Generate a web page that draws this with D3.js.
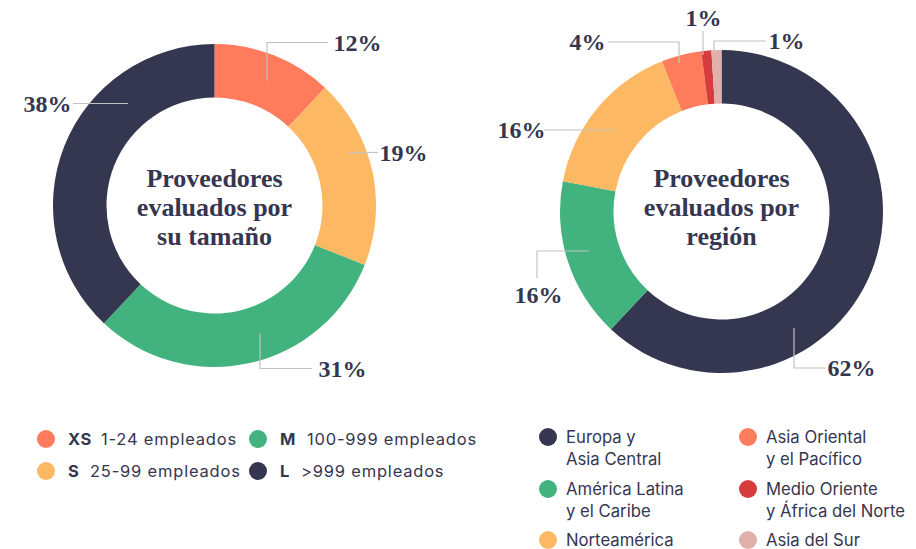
<!DOCTYPE html>
<html>
<head>
<meta charset="utf-8">
<script src="https://cdn.jsdelivr.net/npm/d3@7"></script>
<style>
  html, body { margin: 0; padding: 0; background: #ffffff; }
  svg { display: block; }
</style>
</head>
<body>
<svg id="chart" width="916" height="549"></svg>
<script>
// Proveedores por tamaño
const sizeCodes  = ["XS", "S", "M", "L"];
const sizeRanges = ["1-24 empleados", "25-99 empleados", "100-999 empleados", ">999 empleados"];
const sizeValues = [12, 19, 31, 38];
const sizeColors = ["#fe7b5c", "#fdb863", "#42b37e", "#35364f"];

// Proveedores por región
const regionNames  = ["Europa y\nAsia Central", "América Latina\ny el Caribe", "Norteamérica",
                      "Asia Oriental\ny el Pacífico", "Medio Oriente\ny África del Norte", "Asia del Sur"];
const regionValues = [62, 16, 16, 4, 1, 1];
const regionColors = ["#35364f", "#42b37e", "#fdb863", "#fe7b5c", "#d63c3c", "#e2b0ab"];

const INK = "#35364f";
const LEADER = "#c2c2c2";
const SERIF = "'Liberation Serif', 'DejaVu Serif', serif";
const SANS = "Inter, 'Noto Sans', sans-serif";

const svg = d3.select("#chart");
const pie = d3.pie().sort(null).value(d => d.value);
const arc = d3.arc().innerRadius(108).outerRadius(161.5);

// Leader-line routes, relative to each donut centre; the first point sits on the ring.
const sizeLeaders = [
  { pts: [[52.5, -125], [52.5, -163], [113.5, -163]], tx: 119, ty: -163, anchor: "start" },
  { pts: [[134.5, -53], [163.5, -53]], tx: 165, ty: -53, anchor: "start" },
  { pts: [[45.5, 128], [45.5, 163], [97.5, 163]], tx: 104, ty: 163, anchor: "start" },
  { pts: [[-86.5, -102], [-141.5, -102]], tx: -143, ty: -102, anchor: "end" }
];
const regionLeaders = [
  { pts: [[72.5, 116.5], [72.5, 156.5], [104.5, 156.5]], tx: 106, ty: 156.5, anchor: "start" },
  { pts: [[-132.5, 39.5], [-184.5, 39.5], [-184.5, 66.5]], tx: -183, ty: 83.5, anchor: "middle" },
  { pts: [[-108.5, -81.5], [-177.5, -81.5]], tx: -176, ty: -81.5, anchor: "end" },
  { pts: [[-42.5, -148.5], [-42.5, -169.5], [-113.5, -169.5]], tx: -116, ty: -169.5, anchor: "end" },
  { pts: [[-18.5, -156.5], [-18.5, -180.5]], tx: -18, ty: -194, anchor: "middle" },
  { pts: [[-7.5, -156.5], [-7.5, -170.5], [44.5, -170.5]], tx: 47, ty: -170.5, anchor: "start" }
];

function donut(cx, cy, values, colors, leaders, title) {
  const g = svg.append("g").attr("transform", `translate(${cx},${cy})`);
  const data = values.map((v, i) => ({ value: v, color: colors[i] }));
  const arcs = pie(data);

  g.selectAll("path.slice").data(arcs).join("path")
    .attr("class", "slice")
    .attr("d", arc)
    .attr("fill", d => d.data.color);

  const line = d3.line();
  g.selectAll("path.leader").data(leaders).join("path")
    .attr("class", "leader")
    .attr("d", d => line(d.pts))
    .attr("fill", "none")
    .attr("stroke", LEADER)
    .attr("stroke-width", 1.2);

  g.selectAll("text.pct").data(arcs).join("text")
    .attr("class", "pct")
    .attr("x", (d, i) => leaders[i].tx)
    .attr("y", (d, i) => leaders[i].ty + 8)
    .attr("text-anchor", (d, i) => leaders[i].anchor)
    .attr("font-family", SERIF)
    .attr("font-weight", 700)
    .attr("font-size", 24)
    .attr("fill", INK)
    .text(d => d.data.value + "%");

  const t = svg.append("text")
    .attr("text-anchor", "middle")
    .attr("font-family", SERIF)
    .attr("font-weight", 700)
    .attr("font-size", 26)
    .attr("fill", INK);
  title.forEach((s, i) => {
    t.append("tspan").attr("x", cx).attr("y", 187 + i * 29).text(s);
  });
}

donut(214.5, 205.5, sizeValues, sizeColors, sizeLeaders, ["Proveedores", "evaluados por", "su tamaño"]);
donut(721.5, 211.5, regionValues, regionColors, regionLeaders, ["Proveedores", "evaluados por", "región"]);

// Legend: tamaño
const sizeLegendPos = [[46, 439], [46, 471], [258, 439], [258, 471]];
const sizeRangeX = [101, 90, 307, 301];
const lg1 = svg.append("g");
sizeCodes.forEach((code, i) => {
  const [x, y] = sizeLegendPos[i];
  lg1.append("circle").attr("cx", x).attr("cy", y).attr("r", 9).attr("fill", sizeColors[i]);
  lg1.append("text").attr("x", x + 22).attr("y", y + 6)
    .attr("font-family", SANS).attr("font-weight", 700).attr("font-size", 16.5)
    .attr("letter-spacing", 0.6)
    .attr("fill", INK).text(code);
  lg1.append("text").attr("x", sizeRangeX[i]).attr("y", y + 6)
    .attr("font-family", SANS).attr("font-weight", 400).attr("font-size", 16.5)
    .attr("letter-spacing", 0.8)
    .attr("fill", INK).text(sizeRanges[i]);
});

// Legend: región
const regionLegendPos = [[548, 437], [548, 489], [548, 540], [748, 437], [748, 489], [748, 540]];
const lg2 = svg.append("g");
regionNames.forEach((name, i) => {
  const [x, y] = regionLegendPos[i];
  lg2.append("circle").attr("cx", x).attr("cy", y).attr("r", 9).attr("fill", regionColors[i]);
  const t = lg2.append("text")
    .attr("font-family", SANS).attr("font-size", 16.7).attr("fill", INK);
  name.split("\n").forEach((s, j) => {
    t.append("tspan").attr("x", x + 18).attr("y", y + 6 + j * 21.5).text(s);
  });
});
</script>
</body>
</html>
